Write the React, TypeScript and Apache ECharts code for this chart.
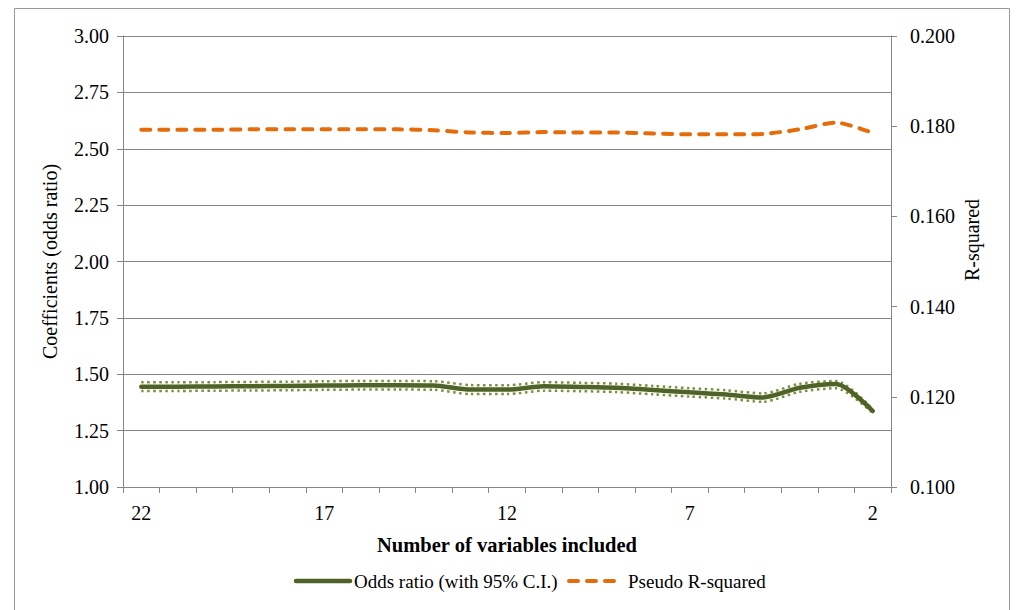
import React, { useEffect, useRef } from "react";
import * as echarts from "echarts";

// Number of variables kept in the model, from the full model down to two
const categories = [
  "22", "21", "20", "19", "18", "17", "16", "15", "14", "13", "12",
  "11", "10", "9", "8", "7", "6", "5", "4", "3", "2",
];

// Odds ratio and its 95% confidence bounds
const oddsRatio = [
  1.445, 1.445, 1.446, 1.447, 1.448, 1.45, 1.451, 1.451, 1.45, 1.432, 1.432,
  1.447, 1.444, 1.44, 1.43, 1.42, 1.41, 1.397, 1.44, 1.457, 1.337,
];
const ciUpper = [
  1.464, 1.464, 1.465, 1.466, 1.467, 1.469, 1.47, 1.47, 1.469, 1.452, 1.451,
  1.465, 1.462, 1.458, 1.448, 1.438, 1.429, 1.415, 1.458, 1.47, 1.345,
];
const ciLower = [
  1.426, 1.426, 1.427, 1.428, 1.429, 1.431, 1.432, 1.432, 1.431, 1.412, 1.412,
  1.427, 1.425, 1.421, 1.411, 1.401, 1.392, 1.378, 1.422, 1.438, 1.328,
];

// Pseudo R-squared of each model
const pseudoR2 = [
  0.1792, 0.1792, 0.1792, 0.1793, 0.1793, 0.1793, 0.1793, 0.1793, 0.1791,
  0.1786, 0.1785, 0.1787, 0.1786, 0.1786, 0.1784, 0.1782, 0.1782, 0.1783,
  0.1793, 0.1808, 0.1785,
];

const legendNames = ["Odds ratio (with 95% C.I.)", "Pseudo R-squared"];

const FONT = "Liberation Serif";
const AXIS_GRAY = "#868686";
const GREEN_DARK = "#4F6228";
const GREEN_LIGHT = "#77933C";
const ORANGE = "#E46C0A";

export default function App() {
  const ref = useRef<HTMLDivElement>(null);

  useEffect(() => {
    if (!ref.current) return;
    const chart = echarts.init(ref.current, null, { renderer: "svg" });

    const ciLine = (name: string, data: number[]) => ({
      name,
      type: "line",
      data,
      yAxisIndex: 0,
      symbol: "none",
      smooth: 0.25,
      z: 3,
      lineStyle: {
        color: GREEN_LIGHT,
        width: 2.5,
        type: [2.5, 3.5],
        cap: "butt",
      },
    });

    const legendY = 581;

    chart.setOption({
      animation: false,
      backgroundColor: "#ffffff",
      textStyle: { fontFamily: FONT, color: "#000" },
      grid: {
        left: 123,
        right: 128,
        top: 36,
        bottom: 123,
        containLabel: false,
        outerBoundsMode: "none",
      },
      graphic: [
        {
          type: "rect",
          shape: { x: 14.5, y: 8.5, width: 995, height: 620 },
          style: { fill: "none", stroke: "#9a9a9a", lineWidth: 1 },
          silent: true,
        },
        {
          type: "text",
          x: 972,
          y: 240,
          rotation: Math.PI / 2,
          style: {
            text: "R-squared",
            fontFamily: FONT,
            fontSize: 20,
            fill: "#000",
            align: "center",
            verticalAlign: "middle",
          },
        },
        // Legend: keys drawn with the same strokes as their series
        {
          type: "line",
          shape: { x1: 296, y1: legendY, x2: 350, y2: legendY },
          style: { stroke: GREEN_DARK, lineWidth: 4.5, lineCap: "round" },
        },
        {
          type: "text",
          x: 354,
          y: legendY,
          style: {
            text: legendNames[0],
            fontFamily: FONT,
            fontSize: 19,
            fill: "#000",
            verticalAlign: "middle",
          },
        },
        {
          type: "line",
          shape: { x1: 569, y1: legendY, x2: 614, y2: legendY },
          style: {
            stroke: ORANGE,
            lineWidth: 4,
            lineCap: "round",
            lineDash: [9, 9],
          },
        },
        {
          type: "text",
          x: 628,
          y: legendY,
          style: {
            text: legendNames[1],
            fontFamily: FONT,
            fontSize: 19,
            fill: "#000",
            verticalAlign: "middle",
          },
        },
      ],
      xAxis: {
        type: "category",
        data: categories,
        boundaryGap: true,
        name: "Number of variables included",
        nameLocation: "middle",
        nameGap: 47,
        nameTextStyle: {
          fontFamily: FONT,
          fontSize: 20.5,
          fontWeight: "bold",
          color: "#000",
        },
        axisLine: { lineStyle: { color: AXIS_GRAY, width: 1 } },
        axisTick: {
          show: true,
          interval: 0,
          length: 6,
          lineStyle: { color: AXIS_GRAY },
        },
        axisLabel: {
          interval: 4,
          margin: 16,
          fontFamily: FONT,
          fontSize: 20,
          color: "#000",
        },
        splitLine: { show: false },
      },
      yAxis: [
        {
          type: "value",
          min: 1,
          max: 3,
          interval: 0.25,
          name: "Coefficients (odds ratio)",
          nameLocation: "middle",
          nameGap: 63,
          nameTextStyle: { fontFamily: FONT, fontSize: 20, color: "#000" },
          axisLine: { show: true, lineStyle: { color: AXIS_GRAY } },
          axisTick: { show: true, length: 6, lineStyle: { color: AXIS_GRAY } },
          axisLabel: {
            margin: 14,
            fontFamily: FONT,
            fontSize: 20,
            color: "#000",
            formatter: (v: number) => v.toFixed(2),
          },
          splitLine: { show: true, lineStyle: { color: AXIS_GRAY, width: 1 } },
        },
        {
          type: "value",
          position: "right",
          min: 0.1,
          max: 0.2,
          interval: 0.02,
          axisLine: { show: true, lineStyle: { color: AXIS_GRAY } },
          axisTick: { show: true, length: 6, lineStyle: { color: AXIS_GRAY } },
          axisLabel: {
            margin: 19,
            fontFamily: FONT,
            fontSize: 20,
            color: "#000",
            formatter: (v: number) => v.toFixed(3),
          },
          splitLine: { show: false },
        },
      ],
      series: [
        ciLine("Upper 95% C.I.", ciUpper),
        ciLine("Lower 95% C.I.", ciLower),
        {
          name: legendNames[0],
          type: "line",
          data: oddsRatio,
          yAxisIndex: 0,
          symbol: "none",
          smooth: 0.25,
          z: 4,
          lineStyle: { color: GREEN_DARK, width: 4.5, cap: "round" },
        },
        {
          name: legendNames[1],
          type: "line",
          data: pseudoR2,
          yAxisIndex: 1,
          symbol: "none",
          smooth: 0.25,
          z: 4,
          lineStyle: {
            color: ORANGE,
            width: 4,
            type: [9, 9],
            cap: "round",
          },
        },
      ],
    });

    return () => chart.dispose();
  }, []);

  return (
    <div
      ref={ref}
      style={{ position: "fixed", left: 0, top: 0, width: 1019, height: 610 }}
    />
  );
}
